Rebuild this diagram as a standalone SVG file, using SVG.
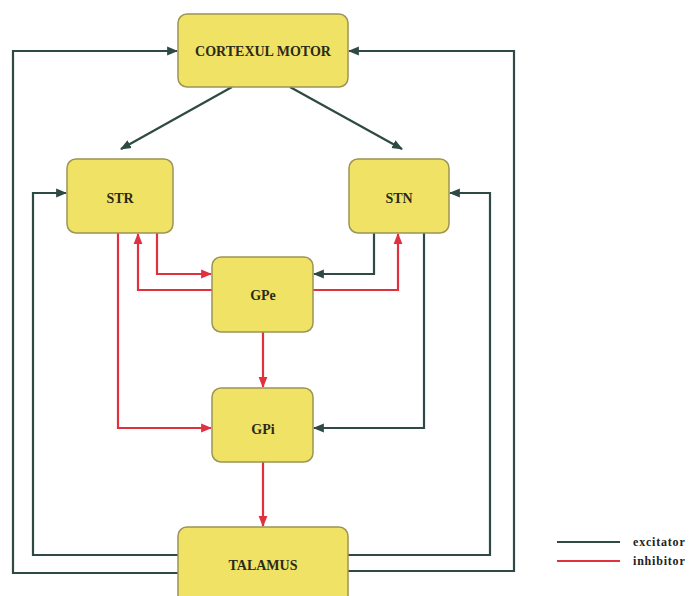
<svg xmlns="http://www.w3.org/2000/svg" width="699" height="596" viewBox="0 0 699 596">
<defs>
<style>
.node rect{fill:#f0e264;stroke:#9c9456;stroke-width:1.5}
.node text{font-family:"Liberation Serif",serif;font-weight:bold;font-size:14px;fill:#2a2a1a;text-anchor:middle}
.ex{fill:none;stroke:#2f4a44;stroke-width:2.2}
.in{fill:none;stroke:#e0313f;stroke-width:2.2}
.lg{font-family:"Liberation Serif",serif;font-weight:bold;font-size:12px;letter-spacing:0.8px;fill:#222}
</style>
<marker id="ae" viewBox="0 0 10 10" refX="9" refY="5" markerWidth="5" markerHeight="5" orient="auto" markerUnits="strokeWidth"><path d="M0,1 L10,5 L0,9 Z" fill="#2f4a44"/></marker>
<marker id="ai" viewBox="0 0 10 10" refX="9" refY="5" markerWidth="5" markerHeight="5" orient="auto" markerUnits="strokeWidth"><path d="M0,1 L10,5 L0,9 Z" fill="#e0313f"/></marker>
</defs>
<rect width="699" height="596" fill="#ffffff"/>
<g id="connectors">
<path class="ex" d="M232,87 L121,149" marker-end="url(#ae)"/>
<path class="ex" d="M290,87 L402,149" marker-end="url(#ae)"/>
<path class="ex" d="M178,573 L13,573 L13,51 L177,51" marker-end="url(#ae)"/>
<path class="ex" d="M348,571 L514,571 L514,51 L349,51" marker-end="url(#ae)"/>
<path class="ex" d="M178,555 L33,555 L33,193 L66,193" marker-end="url(#ae)"/>
<path class="ex" d="M348,555 L490,555 L490,193 L450,193" marker-end="url(#ae)"/>
<path class="in" d="M157,233 L157,274 L211,274" marker-end="url(#ai)"/>
<path class="in" d="M212,290 L138,290 L138,234" marker-end="url(#ai)"/>
<path class="ex" d="M374,233 L374,274 L314,274" marker-end="url(#ae)"/>
<path class="in" d="M313,290 L398,290 L398,234" marker-end="url(#ai)"/>
<path class="in" d="M118,233 L118,428 L211,428" marker-end="url(#ai)"/>
<path class="ex" d="M424,233 L424,428 L314,428" marker-end="url(#ae)"/>
<path class="in" d="M263,332 L263,387" marker-end="url(#ai)"/>
<path class="in" d="M263,462 L263,526" marker-end="url(#ai)"/>
</g>
<g id="cortex" class="node"><rect x="178" y="14" width="170" height="73" rx="9"/><text x="263" y="56">CORTEXUL MOTOR</text></g>
<g id="str" class="node"><rect x="67" y="159" width="106" height="74" rx="9"/><text x="120" y="203">STR</text></g>
<g id="stn" class="node"><rect x="349" y="159" width="100" height="74" rx="9"/><text x="399" y="203">STN</text></g>
<g id="gpe" class="node"><rect x="212" y="257" width="101" height="75" rx="9"/><text x="263" y="300">GPe</text></g>
<g id="gpi" class="node"><rect x="212" y="388" width="101" height="74" rx="9"/><text x="263" y="434">GPi</text></g>
<g id="talamus" class="node"><rect x="178" y="527" width="170" height="80" rx="9"/><text x="263" y="570">TALAMUS</text></g>
<g id="legend">
<line x1="557" y1="542" x2="620" y2="542" stroke="#2f4a44" stroke-width="2.2"/>
<text class="lg" x="633" y="546">excitator</text>
<line x1="557" y1="561" x2="620" y2="561" stroke="#e0313f" stroke-width="2.2"/>
<text class="lg" x="633" y="565">inhibitor</text>
</g>
</svg>
